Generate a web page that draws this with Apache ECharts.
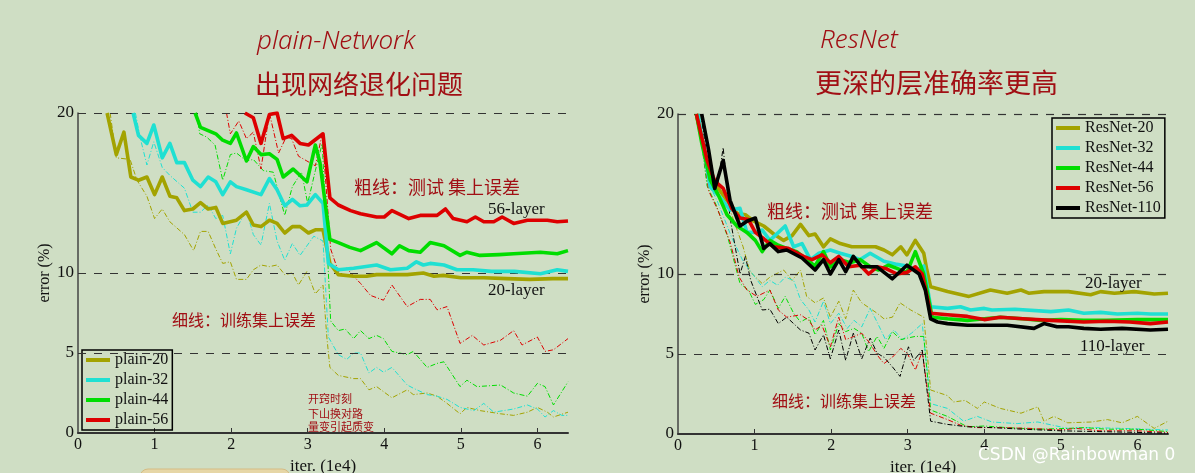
<!DOCTYPE html>
<html>
<head>
<meta charset="utf-8">
<script src="https://cdn.jsdelivr.net/npm/echarts@6/dist/echarts.min.js"></script>
<style>
html,body{margin:0;padding:0;background:#cfdec4;}
#chart{width:1195px;height:473px;}
</style>
</head>
<body>
<div id="chart"></div>
<script>
// ---------- DATA ----------
const xTickValues = [0, 1, 2, 3, 4, 5, 6];
const yTickValues = [0, 5, 10, 20];
const refLines = [5, 10, 20];

// Plain networks: test error (thick)
const plain20Test = [[0.38,20],[0.5,17.4],[0.6,18.8],[0.69,16.0],[0.79,15.8],[0.9,16.0],[1.0,14.9],[1.1,16.0],[1.2,14.8],[1.29,14.7],[1.39,13.9],[1.5,14.0],[1.6,14.4],[1.7,14.0],[1.8,14.1],[1.89,13.1],[2.07,13.3],[2.2,13.8],[2.29,13.0],[2.39,12.9],[2.5,13.3],[2.6,13.1],[2.7,12.5],[2.8,12.9],[2.9,12.9],[3.01,12.5],[3.1,12.7],[3.2,12.7],[3.29,10.6],[3.4,9.9],[3.6,9.8],[3.77,9.8],[3.9,9.9],[4.08,9.9],[4.3,9.9],[4.51,10.0],[4.65,9.8],[4.77,9.85],[5.0,9.7],[5.3,9.7],[5.6,9.65],[5.9,9.6],[6.2,9.65],[6.4,9.65]];
const plain32Test = [[0.72,20],[0.79,18.6],[0.9,18.1],[0.99,19.25],[1.1,17.2],[1.2,18.1],[1.29,16.9],[1.39,16.9],[1.5,15.8],[1.6,15.4],[1.7,16.0],[1.8,15.7],[1.89,14.9],[1.99,15.7],[2.07,15.4],[2.2,15.2],[2.39,14.9],[2.5,15.9],[2.6,15.2],[2.7,14.2],[2.8,14.6],[2.9,14.2],[2.99,14.25],[3.1,14.9],[3.2,14.35],[3.27,10.6],[3.4,10.2],[3.6,10.3],[3.9,10.5],[4.08,10.2],[4.3,10.3],[4.42,10.7],[4.51,10.5],[4.6,10.6],[4.78,10.5],[4.95,10.2],[5.16,10.2],[5.4,10.1],[5.7,10.1],[6.04,9.95],[6.26,10.2],[6.4,10.1]];
const plain44Test = [[1.53,20],[1.6,19.1],[1.7,18.9],[1.8,18.7],[1.89,18.3],[1.99,18.1],[2.07,18.75],[2.2,17.0],[2.29,17.9],[2.39,17.4],[2.5,17.45],[2.6,17.1],[2.68,16.0],[2.81,16.5],[2.99,15.7],[3.1,18.0],[3.16,16.9],[3.29,12.1],[3.4,11.9],[3.55,11.6],[3.69,11.4],[3.9,11.9],[4.1,11.2],[4.2,11.7],[4.32,11.4],[4.47,11.3],[4.6,11.9],[4.78,11.7],[4.99,11.1],[5.08,11.3],[5.25,11.1],[5.5,11.15],[5.69,11.2],[6.04,11.3],[6.26,11.2],[6.4,11.4]];
const plain56Test = [[2.18,20],[2.29,19.7],[2.39,18.1],[2.5,19.9],[2.6,20],[2.68,18.4],[2.79,18.6],[2.9,18.1],[3.01,18.0],[3.2,18.7],[3.29,14.7],[3.4,14.25],[3.56,13.9],[3.69,13.7],[3.9,13.5],[4.0,13.5],[4.1,13.9],[4.32,13.4],[4.47,13.6],[4.58,13.6],[4.69,13.6],[4.8,14.0],[4.9,13.4],[5.08,13.2],[5.19,13.5],[5.3,13.2],[5.43,13.2],[5.54,13.5],[5.69,13.1],[5.87,13.3],[6.13,13.3],[6.26,13.2],[6.4,13.25]];

// Plain networks: training error (thin)
const plain20Train = [[0.42,20],[0.5,17.2],[0.68,17.1],[0.77,15.8],[0.9,14.8],[1.0,13.4],[1.1,14.0],[1.2,13.2],[1.39,12.4],[1.51,11.4],[1.6,12.6],[1.7,12.6],[1.8,11.5],[1.89,10.6],[1.99,10.7],[2.07,9.6],[2.2,9.6],[2.29,10.2],[2.39,10.5],[2.5,10.4],[2.6,10.5],[2.7,9.9],[2.8,10.0],[2.88,9.25],[2.99,10.1],[3.1,8.7],[3.2,9.25],[3.25,6.0],[3.29,4.1],[3.4,3.6],[3.6,3.4],[3.69,3.4],[3.8,2.7],[3.9,2.9],[4.1,2.2],[4.3,2.7],[4.38,2.4],[4.56,2.5],[4.69,2.3],[4.82,1.85],[4.99,1.2],[5.08,1.6],[5.25,1.4],[5.52,1.2],[5.69,1.1],[5.87,1.3],[6.0,1.6],[6.13,1.3],[6.21,1.0],[6.4,1.3]];
const plain32Train = [[0.75,20],[0.81,18.5],[0.9,16.75],[0.99,18.2],[1.1,16.6],[1.2,16.1],[1.39,15.3],[1.5,13.8],[1.6,13.8],[1.7,14.25],[1.8,13.4],[1.89,13.6],[1.99,11.2],[2.07,12.8],[2.2,13.9],[2.29,12.4],[2.39,11.75],[2.5,14.35],[2.6,12.0],[2.7,10.8],[2.8,11.85],[2.9,11.1],[3.08,12.3],[3.2,12.0],[3.27,6.0],[3.4,4.9],[3.51,4.6],[3.6,5.0],[3.69,5.0],[3.8,3.75],[3.9,4.1],[3.99,3.8],[4.1,4.1],[4.3,3.0],[4.38,2.8],[4.56,2.4],[4.69,2.3],[4.82,2.1],[4.99,1.6],[5.17,1.4],[5.3,1.85],[5.43,1.3],[5.69,1.5],[5.87,1.75],[6.0,1.5],[6.1,1.0],[6.21,1.4],[6.32,1.1],[6.4,1.1]];
const plain44Train = [[1.55,20],[1.59,18.7],[1.68,18.5],[1.79,18.0],[1.89,15.8],[1.99,17.4],[2.07,17.5],[2.2,17.0],[2.29,17.1],[2.42,16.4],[2.55,16.3],[2.7,13.6],[2.8,15.4],[2.92,16.3],[3.0,14.35],[3.1,16.4],[3.19,18.1],[3.3,7.0],[3.4,6.4],[3.49,6.5],[3.6,5.9],[3.69,6.4],[3.8,5.9],[3.9,6.1],[3.99,5.9],[4.1,5.1],[4.3,4.9],[4.38,5.1],[4.56,4.1],[4.69,4.35],[4.78,4.45],[4.99,2.9],[5.08,3.3],[5.21,2.9],[5.52,3.0],[5.69,2.5],[5.87,2.3],[6.0,3.1],[6.1,2.9],[6.21,1.75],[6.4,3.2]];
const plain56Train = [[1.94,20],[1.99,18.7],[2.1,19.5],[2.2,18.4],[2.29,18.8],[2.39,16.5],[2.5,20],[2.62,17.5],[2.72,18.5],[2.79,18.4],[2.88,17.3],[2.99,17.0],[3.1,16.7],[3.19,18.7],[3.3,11.5],[3.4,10.1],[3.51,10.3],[3.6,9.8],[3.69,9.35],[3.82,8.6],[3.99,8.3],[4.1,9.25],[4.3,7.9],[4.47,8.35],[4.6,8.35],[4.69,7.7],[4.82,7.9],[4.99,5.6],[5.15,6.1],[5.3,5.5],[5.52,5.8],[5.69,6.4],[5.8,5.5],[6.0,6.0],[6.1,5.1],[6.21,5.2],[6.4,5.9]];

// ResNets: test error (thick)
const res20Test = [[0.24,20],[0.38,16.9],[0.51,15.45],[0.64,14.6],[0.77,13.8],[0.88,13.7],[0.99,13.3],[1.12,13.0],[1.25,12.5],[1.38,12.1],[1.49,12.4],[1.6,13.1],[1.71,12.4],[1.79,12.5],[1.9,11.7],[1.99,12.2],[2.12,11.9],[2.27,11.7],[2.38,11.7],[2.58,11.7],[2.69,11.5],[2.8,11.2],[2.91,11.7],[2.99,11.2],[3.1,12.1],[3.21,11.3],[3.25,10.25],[3.3,9.2],[3.52,8.9],[3.8,8.6],[4.08,9.0],[4.3,8.8],[4.48,9.0],[4.58,8.8],[4.78,8.9],[5.1,8.9],[5.39,8.7],[5.52,8.9],[5.7,8.8],[5.96,8.9],[6.22,8.75],[6.4,8.8]];
const res32Test = [[0.26,20],[0.42,15.45],[0.55,14.8],[0.68,14.0],[0.81,14.1],[0.9,12.6],[1.0,12.6],[1.1,12.75],[1.2,12.1],[1.4,13.0],[1.51,11.7],[1.62,11.9],[1.73,10.9],[1.84,11.3],[1.99,11.5],[2.12,11.3],[2.27,11.1],[2.38,10.9],[2.51,11.3],[2.69,10.8],[2.86,10.6],[2.99,10.5],[3.12,10.25],[3.21,10.5],[3.3,7.95],[3.52,7.85],[3.69,7.95],[3.82,7.75],[4.0,7.85],[4.1,7.75],[4.4,7.8],[4.87,7.65],[5.1,7.75],[5.3,7.55],[5.52,7.6],[5.74,7.5],[6.0,7.55],[6.17,7.5],[6.4,7.5]];
const res44Test = [[0.24,20],[0.31,18.2],[0.42,15.9],[0.53,14.9],[0.64,13.7],[0.77,13.0],[0.9,12.6],[1.01,12.1],[1.1,11.4],[1.2,12.1],[1.31,11.8],[1.42,11.6],[1.55,11.4],[1.68,10.9],[1.79,10.5],[1.9,11.4],[1.99,10.45],[2.12,10.9],[2.25,10.7],[2.38,10.9],[2.51,10.45],[2.62,10.25],[2.75,10.55],[2.86,10.35],[2.99,10.1],[3.1,11.4],[3.21,10.0],[3.32,7.3],[3.52,7.2],[3.78,7.1],[4.0,7.2],[4.21,7.3],[4.5,7.2],[4.75,7.1],[5.0,7.15],[5.3,7.1],[5.6,7.1],[6.0,7.15],[6.4,7.15]];
const res56Test = [[0.24,20],[0.38,17.1],[0.48,15.8],[0.59,15.35],[0.7,14.1],[0.81,13.5],[0.92,13.4],[1.01,12.6],[1.12,12.2],[1.25,11.7],[1.44,11.6],[1.64,11.1],[1.75,10.9],[1.88,11.2],[1.99,10.7],[2.1,11.1],[2.23,10.45],[2.38,10.55],[2.49,10.0],[2.6,10.45],[2.71,10.35],[2.86,10.0],[2.99,10.1],[3.1,10.45],[3.19,10.0],[3.3,7.55],[3.52,7.45],[3.78,7.35],[4.0,7.15],[4.21,7.3],[4.5,7.2],[4.87,7.1],[5.3,7.0],[5.6,7.05],[5.9,7.0],[6.17,6.9],[6.4,7.0]];
const res110Test = [[0.31,20],[0.4,17.75],[0.48,15.35],[0.59,17.1],[0.68,14.6],[0.81,13.0],[0.9,13.3],[1.01,13.5],[1.12,11.6],[1.2,11.9],[1.31,11.4],[1.42,11.5],[1.62,11.0],[1.79,10.25],[1.9,10.9],[1.99,10.0],[2.1,10.9],[2.19,10.15],[2.29,11.1],[2.4,10.45],[2.6,10.45],[2.8,9.7],[2.99,10.55],[3.15,10.0],[3.23,9.0],[3.3,7.2],[3.39,7.0],[3.52,6.9],[3.78,6.8],[4.0,6.8],[4.3,6.8],[4.65,6.6],[4.78,6.9],[4.95,6.7],[5.1,6.7],[5.3,6.6],[5.52,6.55],[5.8,6.6],[6.17,6.5],[6.4,6.55]];

// ResNets: training error (thin)
const res20Train = [[0.28,20],[0.4,16.0],[0.55,14.8],[0.68,14.0],[0.85,11.7],[0.94,10.15],[1.1,9.4],[1.2,9.8],[1.38,10.25],[1.49,9.6],[1.6,10.25],[1.68,8.6],[1.79,8.2],[1.9,8.5],[1.99,7.3],[2.1,8.3],[2.19,7.2],[2.29,9.0],[2.4,8.2],[2.6,7.55],[2.69,7.2],[2.8,7.3],[2.9,8.2],[3.04,7.75],[3.21,7.3],[3.3,2.75],[3.52,2.4],[3.6,2.0],[3.75,2.1],[3.91,1.6],[4.0,2.0],[4.21,1.6],[4.48,1.3],[4.7,1.7],[4.78,0.8],[4.91,1.1],[5.09,0.7],[5.4,0.75],[5.61,0.9],[5.8,0.7],[6.0,1.1],[6.22,0.35],[6.4,0.8]];
const res32Train = [[0.28,20],[0.38,15.8],[0.51,14.6],[0.7,12.3],[0.85,10.8],[0.99,9.9],[1.1,9.2],[1.2,9.6],[1.3,9.3],[1.4,9.8],[1.51,9.6],[1.6,8.4],[1.71,7.75],[1.79,7.0],[1.9,8.3],[1.99,6.9],[2.1,7.55],[2.21,6.6],[2.3,7.1],[2.4,6.7],[2.51,7.85],[2.6,7.0],[2.71,5.9],[2.82,6.5],[2.93,5.9],[3.05,6.3],[3.19,6.9],[3.3,1.9],[3.52,1.6],[3.73,0.8],[3.91,1.1],[4.1,0.75],[4.43,0.65],[4.7,0.75],[5.09,0.35],[5.4,0.4],[5.8,0.35],[6.1,0.3],[6.4,0.25]];
const res44Train = [[0.26,20],[0.38,15.5],[0.5,14.3],[0.65,12.3],[0.81,9.4],[0.92,9.0],[1.01,8.1],[1.12,8.4],[1.2,9.0],[1.31,7.85],[1.4,8.6],[1.51,7.55],[1.6,7.0],[1.71,7.3],[1.79,6.2],[1.9,7.1],[1.99,5.25],[2.1,6.9],[2.19,6.4],[2.3,6.6],[2.4,6.3],[2.49,5.15],[2.6,6.1],[2.69,5.35],[2.8,6.4],[2.91,5.9],[3.0,6.0],[3.1,6.1],[3.21,6.1],[3.3,1.5],[3.52,1.1],[3.78,0.45],[4.0,0.5],[4.3,0.4],[4.7,0.3],[5.1,0.35],[5.3,0.4],[5.6,0.3],[6.0,0.3],[6.4,0.15]];
const res56Train = [[0.26,20],[0.4,15.2],[0.52,14.0],[0.68,12.0],[0.8,9.8],[0.9,9.0],[1.03,8.6],[1.2,9.0],[1.31,7.75],[1.42,7.3],[1.6,7.45],[1.71,7.1],[1.79,6.5],[1.88,6.8],[1.99,5.45],[2.1,7.3],[2.19,5.9],[2.3,6.1],[2.4,6.3],[2.51,5.65],[2.6,4.95],[2.69,4.4],[2.8,4.8],[2.91,5.35],[3.0,5.0],[3.1,4.0],[3.19,5.15],[3.3,1.3],[3.52,0.9],[3.69,0.55],[3.9,0.4],[4.2,0.4],[4.6,0.35],[5.0,0.25],[5.2,0.35],[5.5,0.2],[6.0,0.2],[6.4,0.1]];
const res110Train = [[0.3,20],[0.4,16.5],[0.5,15.0],[0.59,17.9],[0.68,13.5],[0.81,10.0],[0.88,11.1],[0.95,9.6],[1.1,7.75],[1.2,7.8],[1.31,6.9],[1.42,7.3],[1.6,6.5],[1.71,6.3],[1.79,5.25],[1.9,6.2],[1.99,4.7],[2.1,6.5],[2.19,4.6],[2.29,6.3],[2.4,4.7],[2.51,6.0],[2.6,5.05],[2.69,4.8],[2.8,4.2],[2.9,3.6],[3.01,5.45],[3.08,4.6],[3.19,5.25],[3.3,0.8],[3.52,0.6],[3.78,0.45],[4.1,0.4],[4.5,0.3],[5.0,0.2],[5.5,0.15],[6.0,0.1],[6.4,0.05]];

const plainNames = ['plain-20', 'plain-32', 'plain-44', 'plain-56'];
const resNames = ['ResNet-20', 'ResNet-32', 'ResNet-44', 'ResNet-56', 'ResNet-110'];

// ---------- STYLE ----------
const C_OLIVE = '#a3a300', C_CYAN = '#1fe0d2', C_GREEN = '#00dd00', C_RED = '#dd0000', C_BLACK = '#000000';
const SERIF = '"Liberation Serif", "DejaVu Serif", serif';
const HAND = '"Noto Sans CJK SC", sans-serif';
const ANN = '#a10f14';

function line(name, data, color, thick, gi) {
  return {
    type: 'line', name: name, data: data,
    xAxisIndex: gi, yAxisIndex: gi,
    symbol: 'none', showSymbol: false, clip: true, animation: false,
    itemStyle: { color: color },
    lineStyle: thick ? { color: color, width: 3.6, join: 'round' }
                     : { color: color, width: 1, type: [5, 2, 1, 2] },
    z: thick ? 5 : 3
  };
}
function refSeries(gi) {
  return {
    type: 'line', name: 'ref' + gi, data: [], xAxisIndex: gi, yAxisIndex: gi, silent: true,
    markLine: {
      silent: true, symbol: ['none', 'none'], animation: false,
      label: { show: false },
      lineStyle: { color: '#333', width: 1.2, type: [8, 8] },
      data: refLines.map(v => ({ yAxis: v }))
    }, z: 1
  };
}
function xAx(gi) {
  return {
    gridIndex: gi, type: 'value', min: 0, max: 6.4,
    name: 'iter. (1e4)', nameLocation: 'middle', nameGap: 22,
    nameTextStyle: { fontFamily: SERIF, fontSize: 17, color: '#111' },
    axisLine: { show: true, lineStyle: { color: '#333', width: 2 } },
    axisTick: { show: true, inside: true, length: 5, lineStyle: { color: '#333' }, customValues: [1,2,3,4,5,6] },
    axisLabel: { customValues: xTickValues, fontFamily: SERIF, fontSize: 16, color: '#111', margin: 4 },
    splitLine: { show: false }
  };
}
function yAx(gi) {
  return {
    gridIndex: gi, type: 'value', min: 0, max: 20,
    name: 'error (%)', nameLocation: 'middle', nameGap: 24, nameRotate: 90,
    nameTextStyle: { fontFamily: SERIF, fontSize: 16, color: '#111' },
    axisLine: { show: true, lineStyle: { color: '#444', width: 1.5 } },
    axisTick: { show: false },
    axisLabel: { customValues: yTickValues, fontFamily: SERIF, fontSize: 17, color: '#111', margin: 4 },
    splitLine: { show: false }
  };
}
function txt(text, x, y, font, color) {
  return {
    type: 'text', silent: true, z: 50,
    style: { text: text, x: x, y: y, fill: color, font: font, verticalAlign: 'middle', align: 'left' }
  };
}

const series = [
  refSeries(0), refSeries(1),
  line('plain-20 train', plain20Train, C_OLIVE, false, 0),
  line('plain-32 train', plain32Train, C_CYAN, false, 0),
  line('plain-44 train', plain44Train, C_GREEN, false, 0),
  line('plain-56 train', plain56Train, C_RED, false, 0),
  line('plain-20', plain20Test, C_OLIVE, true, 0),
  line('plain-32', plain32Test, C_CYAN, true, 0),
  line('plain-44', plain44Test, C_GREEN, true, 0),
  line('plain-56', plain56Test, C_RED, true, 0),
  line('ResNet-20 train', res20Train, C_OLIVE, false, 1),
  line('ResNet-32 train', res32Train, C_CYAN, false, 1),
  line('ResNet-44 train', res44Train, C_GREEN, false, 1),
  line('ResNet-56 train', res56Train, C_RED, false, 1),
  line('ResNet-110 train', res110Train, C_BLACK, false, 1),
  line('ResNet-20', res20Test, C_OLIVE, true, 1),
  line('ResNet-32', res32Test, C_CYAN, true, 1),
  line('ResNet-44', res44Test, C_GREEN, true, 1),
  line('ResNet-56', res56Test, C_RED, true, 1),
  line('ResNet-110', res110Test, C_BLACK, true, 1)
];

const legendBase = {
  orient: 'vertical', icon: 'rect', itemWidth: 24, itemHeight: 4, itemGap: 4,
  padding: [2, 4, 2, 4], borderColor: '#000', borderWidth: 1.5, backgroundColor: 'transparent',
  textStyle: { fontFamily: SERIF, fontSize: 16, color: '#111', lineHeight: 16 },
  selectedMode: false
};

const HSANS = 'italic 300 26px "Noto Sans", sans-serif';
const option = {
  backgroundColor: '#cfdec4',
  animation: false,
  grid: [
    { left: 78, top: 113, width: 490, height: 320, outerBoundsMode: 'none', containLabel: false },
    { left: 678, top: 114, width: 490, height: 320, outerBoundsMode: 'none', containLabel: false }
  ],
  xAxis: [xAx(0), xAx(1)],
  yAxis: [yAx(0), yAx(1)],
  legend: [
    Object.assign({}, legendBase, { left: 82, top: 350, data: plainNames }),
    Object.assign({}, legendBase, { left: 1052, top: 118, data: resNames })
  ],
  series: series,
  graphic: [
    { type: 'rect', silent: true, z: 0, shape: { x: 140, y: 469, width: 150, height: 20, r: 8 },
      style: { fill: '#e6d6a6', stroke: '#d4bc84', lineWidth: 1 } },
    txt('plain-Network', 257, 42, HSANS, ANN),
    txt('出现网络退化问题', 255, 84, '26px ' + HAND, ANN),
    txt('ResNet', 820, 41, HSANS, ANN),
    txt('更深的层准确率更高', 815, 83, '27px ' + HAND, ANN),
    txt('粗线：测试 集上误差', 354, 187, '18px ' + HAND, ANN),
    txt('细线：训练集上误差', 172, 320, '16px ' + HAND, ANN),
    txt('粗线：测试 集上误差', 767, 211, '18px ' + HAND, ANN),
    txt('细线：训练集上误差', 772, 401, '16px ' + HAND, ANN),
    txt('开窍时刻', 308, 399, '11px ' + HAND, ANN),
    txt('下山换对路', 308, 414, '11px ' + HAND, ANN),
    txt('量变引起质变', 308, 427, '11px ' + HAND, ANN),
    txt('56-layer', 488, 210, '17px ' + SERIF, '#111'),
    txt('20-layer', 488, 291, '17px ' + SERIF, '#111'),
    txt('20-layer', 1085, 284, '17px ' + SERIF, '#111'),
    txt('110-layer', 1080, 347, '17px ' + SERIF, '#111'),
    { type: 'text', silent: true, z: 60, style: { text: 'CSDN @Rainbowman 0', x: 978, y: 456, fill: '#ffffff', font: '17px "DejaVu Sans", sans-serif', verticalAlign: 'middle', align: 'left', shadowColor: 'rgba(0,0,0,0.55)', shadowBlur: 2, shadowOffsetX: 1, shadowOffsetY: 1 } }
  ]
};

const chart = echarts.init(document.getElementById('chart'), null, { renderer: 'canvas' });
chart.setOption(option);
</script>
</body>
</html>
